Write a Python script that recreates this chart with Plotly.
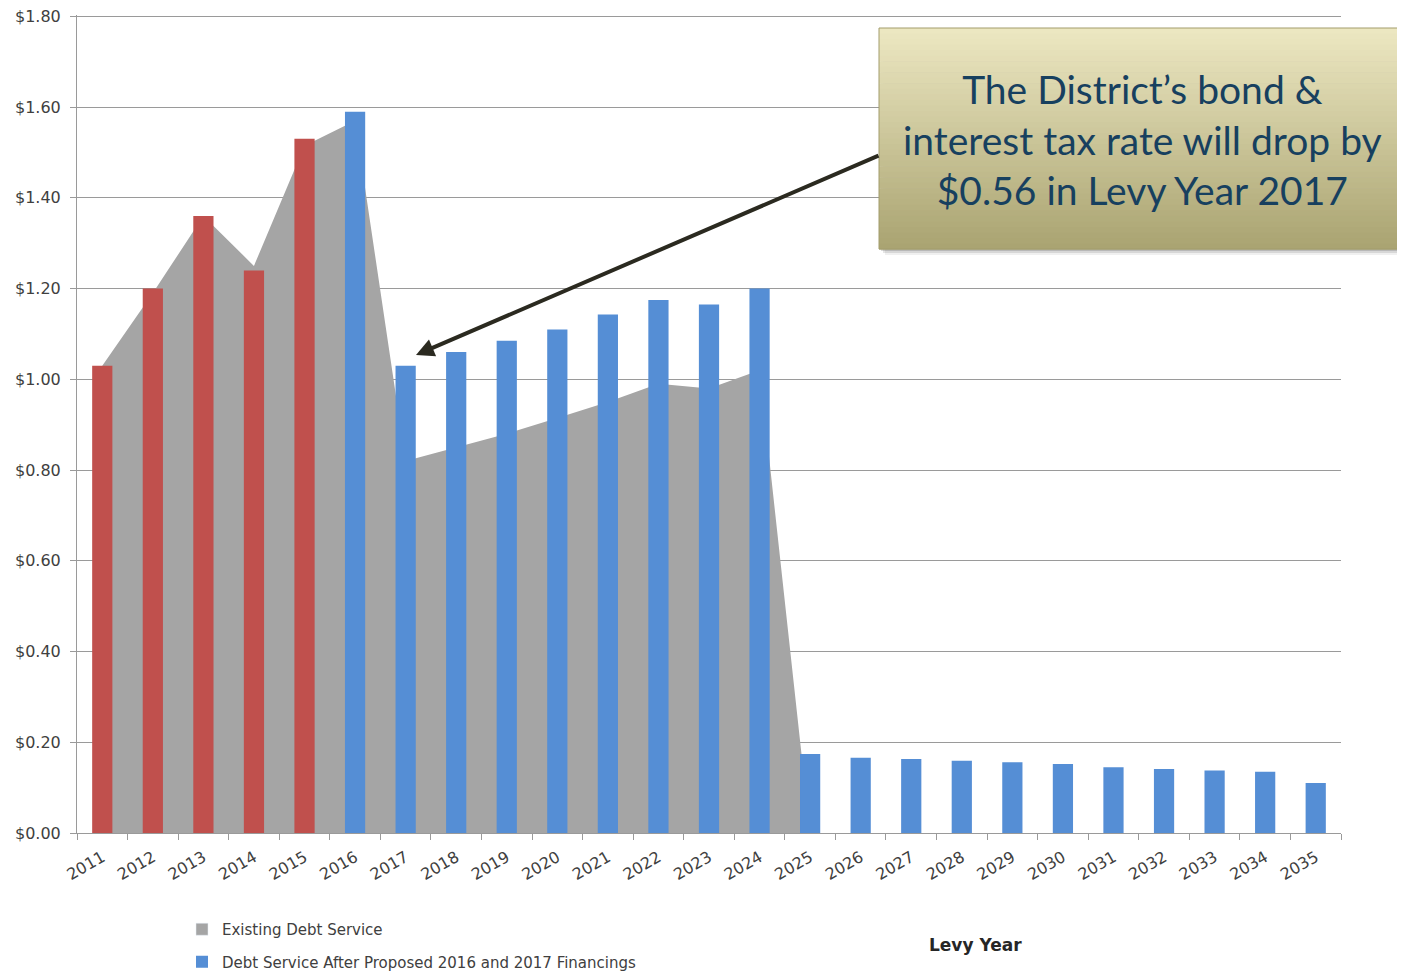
import plotly.graph_objects as go

years = [str(y) for y in range(2011, 2036)]

# existing debt service (area), 2011-2025
area_years = years[:15]
existing = [1.03, 1.19, 1.36, 1.25, 1.515, 1.57, 0.82, 0.85, 0.88, 0.915, 0.95, 0.99, 0.98, 1.02, 0.0]

# levied rates (red bars) 2011-2015
past_years = years[:5]
past_rate = [1.03, 1.20, 1.36, 1.24, 1.53]

# debt service after proposed financings (blue bars) 2016-2035
new_years = years[5:]
new_rate = [1.59, 1.03, 1.06, 1.085, 1.11, 1.143, 1.175, 1.165, 1.20,
            0.174, 0.166, 0.163, 0.159, 0.156, 0.152, 0.145, 0.141, 0.138, 0.135, 0.110]

y_ticks = [0.0, 0.2, 0.4, 0.6, 0.8, 1.0, 1.2, 1.4, 1.6, 1.8]
y_top = 1.803

GRAY = "#a5a5a5"
RED = "#c0504d"
BLUE = "#558ed5"
GRID = "#9a9a9a"
TXT = "#404040"

# page has an 8px body margin: the figure starts at (8, 8) and runs past the
# window edge; screen positions below are converted with that offset
OFF = 8
W, H = 1405, 972
PL, PR, PT, PB = 77, 1341, 15, 833          # plot area on screen
L, T = PL - OFF, PT - OFF
R, B = W - (PR - OFF), H - (PB - OFF)


def px_x(x):
    return (x - PL) / (PR - PL)


def px_y(y):
    return (PB - y) / (PB - PT)


fig = go.Figure()
# area on the base axes so the bars (on overlaying axes) sit on top of it
fig.add_trace(go.Scatter(x=area_years, y=existing, mode="lines", line=dict(width=0, color=GRAY),
                         fill="tozeroy", fillcolor=GRAY, showlegend=False))
# legend stand-in for the area series (square swatch like the original)
fig.add_trace(go.Bar(x=[years[0]], y=[None], marker_color=GRAY, name="Existing Debt Service",
                     legendgroup="a", xaxis="x2", yaxis="y2"))
fig.add_trace(go.Bar(x=past_years, y=past_rate, marker_color=RED, width=0.4,
                     showlegend=False, marker_line_width=0, xaxis="x2", yaxis="y2"))
fig.add_trace(go.Bar(x=new_years, y=new_rate, marker_color=BLUE, width=0.4,
                     name="Debt Service After Proposed 2016 and 2017 Financings",
                     legendgroup="b", marker_line_width=0, xaxis="x2", yaxis="y2"))

# callout box with soft shadow and vertical gradient
bx0, bx1, by0, by1 = 879, 1420, 28, 249
for d, a in [(6, 0.06), (4, 0.10), (2, 0.14)]:
    fig.add_shape(type="rect", xref="paper", yref="paper", layer="above",
                  x0=px_x(bx0 + d), x1=px_x(bx1 + d), y0=px_y(by0 + d), y1=px_y(by1 + d),
                  fillcolor="rgba(0,0,0,%.2f)" % a, line_width=0)
top_c, bot_c = (236, 231, 193), (170, 164, 114)
n = 40
for i in range(n):
    f = i / (n - 1)
    c = tuple(round(top_c[k] + (bot_c[k] - top_c[k]) * f) for k in range(3))
    ya = by0 + (by1 - by0) * i / n
    yb = by0 + (by1 - by0) * (i + 1) / n + 0.6
    fig.add_shape(type="rect", xref="paper", yref="paper", layer="above",
                  x0=px_x(bx0), x1=px_x(bx1), y0=px_y(ya), y1=px_y(yb),
                  fillcolor="rgb(%d,%d,%d)" % c, line_width=0)
fig.add_shape(type="rect", xref="paper", yref="paper", layer="above",
              x0=px_x(bx0), x1=px_x(bx1), y0=px_y(by0), y1=px_y(by1),
              fillcolor="rgba(0,0,0,0)", line=dict(color="#a39d6c", width=1))

fig.add_annotation(xref="paper", yref="paper", x=px_x(1142), y=px_y(140),
                   text="The District’s bond &<br>interest tax rate will drop by<br>$0.56 in Levy Year 2017",
                   showarrow=False, font=dict(family="Lato", size=39, color="#17405f"),
                   align="center", xanchor="center", yanchor="middle")

# arrow
fig.add_annotation(xref="paper", yref="paper", x=px_x(416), y=px_y(355), text="",
                   showarrow=True, ax=880 - 416, ay=155 - 355, arrowhead=2, arrowsize=0.9,
                   arrowwidth=4, arrowcolor="#2b2a20", standoff=0)

fig.add_annotation(xref="paper", yref="paper", x=px_x(975), y=px_y(945), text="<b>Levy Year</b>",
                   showarrow=False, font=dict(family="DejaVu Sans", size=17, color="#262626"),
                   xanchor="center", yanchor="middle")

fig.update_layout(
    width=W, height=H,
    margin=dict(l=L, r=R, t=T, b=B, autoexpand=False),
    plot_bgcolor="white", paper_bgcolor="white",
    barmode="overlay",
    font=dict(family="DejaVu Sans", size=15, color=TXT),
    legend=dict(orientation="v", x=px_x(182), y=px_y(913), xanchor="left", yanchor="top",
                font=dict(family="DejaVu Sans", size=15, color=TXT), tracegroupgap=10,
                bgcolor="rgba(0,0,0,0)"),
    showlegend=True,
    xaxis=dict(type="category", categoryorder="array", categoryarray=years, range=[-0.5, 24.5],
               showline=True, linecolor=GRID, linewidth=1, ticks="outside", tickson="boundaries",
               ticklen=6, tickcolor=GRID, tickangle=-30, showgrid=False, automargin=False,
               ticklabelstandoff=8,
               tickfont=dict(family="DejaVu Sans", size=16, color=TXT)),
    yaxis=dict(range=[0, y_top], tickvals=y_ticks, tickformat="$.2f", showgrid=True,
               gridcolor=GRID, gridwidth=1, showline=True, linecolor=GRID, ticks="outside",
               ticklen=6, tickcolor=GRID, zeroline=False, automargin=False, ticklabelstandoff=6,
               ticklabeloverflow="allow",
               tickfont=dict(family="DejaVu Sans", size=16, color=TXT)),
    xaxis2=dict(type="category", categoryorder="array", categoryarray=years, range=[-0.5, 24.5],
                overlaying="x", visible=False),
    yaxis2=dict(range=[0, y_top], overlaying="y", visible=False),
)

fig.write_html("out.html")
